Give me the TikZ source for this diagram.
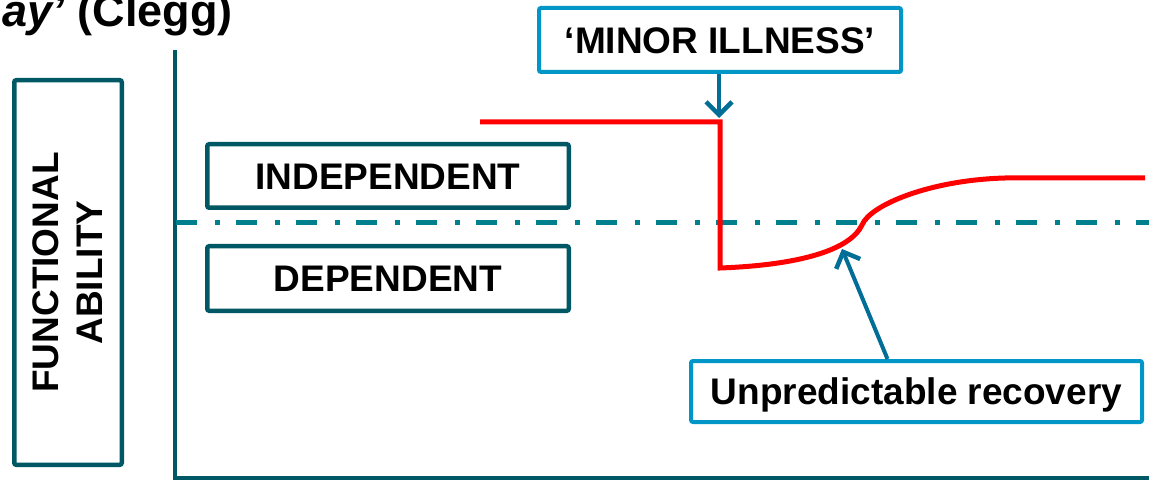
\documentclass[tikz,border=0pt]{standalone}
\usepackage{fontspec}
\setmainfont{Liberation Sans}
\usetikzlibrary{arrows.meta}
\definecolor{tealdark}{RGB}{0,88,100}
\definecolor{tealmid}{RGB}{0,128,140}
\definecolor{boxblue}{RGB}{0,150,200}
\definecolor{arrowblue}{RGB}{0,110,150}
\definecolor{curvered}{RGB}{255,0,0}
\tikzset{
  lbl/.style={font=\fontsize{37}{44}\selectfont\bfseries},
  tealbox/.style={draw=tealdark, line width=4.5pt, rounded corners=2pt, inner sep=0pt, lbl, text height=26.5pt, text depth=0pt},
  bluebox/.style={draw=boxblue, line width=4pt, rounded corners=2pt, inner sep=0pt, lbl, text height=26.5pt, text depth=0pt, fill=white},
  axisline/.style={draw=tealdark, line width=4pt},
  threshold/.style={draw=tealmid, line width=5pt, dash pattern=on 21pt off 18pt on 5pt off 16pt},
  pointer/.style={draw=arrowblue, line width=4pt, -{Straight Barb[length=13pt,width=26pt,line width=4.5pt]}},
  course/.style={draw=curvered, line width=5pt, line join=miter}
}
\begin{document}
\begin{tikzpicture}[x=1pt,y=-1pt]
\useasboundingbox (0,0) rectangle (1149,481);
% title fragment
\node[anchor=base east, inner sep=0pt, font=\fontsize{45}{50}\selectfont\bfseries] (title) at (233,27) {\textit{ay’} (Clegg)};
% axes
\coordinate (ytop) at (175,50);
\coordinate (origin) at (175,478);
\coordinate (xend) at (1149,478);
\draw[axisline, line cap=butt] (ytop) -- (origin) -- (xend);
% threshold line
\coordinate (thl) at (176,223);
\coordinate (thr) at (1149,223);
\draw[threshold] (thl) -- (thr);
% y label
\node[draw=tealdark, line width=4.5pt, rounded corners=2pt, inner sep=0pt, lbl, rotate=90, align=center, minimum width=384.5pt, minimum height=107.5pt] (fa) at (68,272.5) {FUNCTIONAL\\ABILITY};
% level boxes
\node[tealbox, minimum width=361.5pt, minimum height=63.5pt] (indep) at (388,176) {INDEPENDENT};
\node[tealbox, minimum width=361.5pt, minimum height=64.5pt] (dep) at (388,278.5) {DEPENDENT};
% course of function
\coordinate (c0) at (480,122);
\coordinate (c1) at (720,122);
\coordinate (c2) at (720,268);
\coordinate (c3) at (862,225);
\coordinate (c4) at (1005,178);
\coordinate (c5) at (1145,178);
\draw[course] (c0) -- (c1) -- (c2) .. controls (800,265) and (850,250) .. (c3) .. controls (870,205) and (930,180) .. (c4) -- (c5);
% annotations
\node[bluebox, minimum width=362pt, minimum height=64pt] (minor) at (720,40) {‘MINOR ILLNESS’\hspace{10pt}};
\node[bluebox, minimum width=451pt, minimum height=61pt] (rec) at (916.5,391.5) {Unpredictable recovery};
\coordinate (mtip) at (719,118);
\coordinate (rtip) at (842,249);
\draw[pointer] (minor.south -| mtip) -- (mtip);
\draw[pointer] ([xshift=-29pt]rec.north) -- (rtip);
\end{tikzpicture}
\end{document}
